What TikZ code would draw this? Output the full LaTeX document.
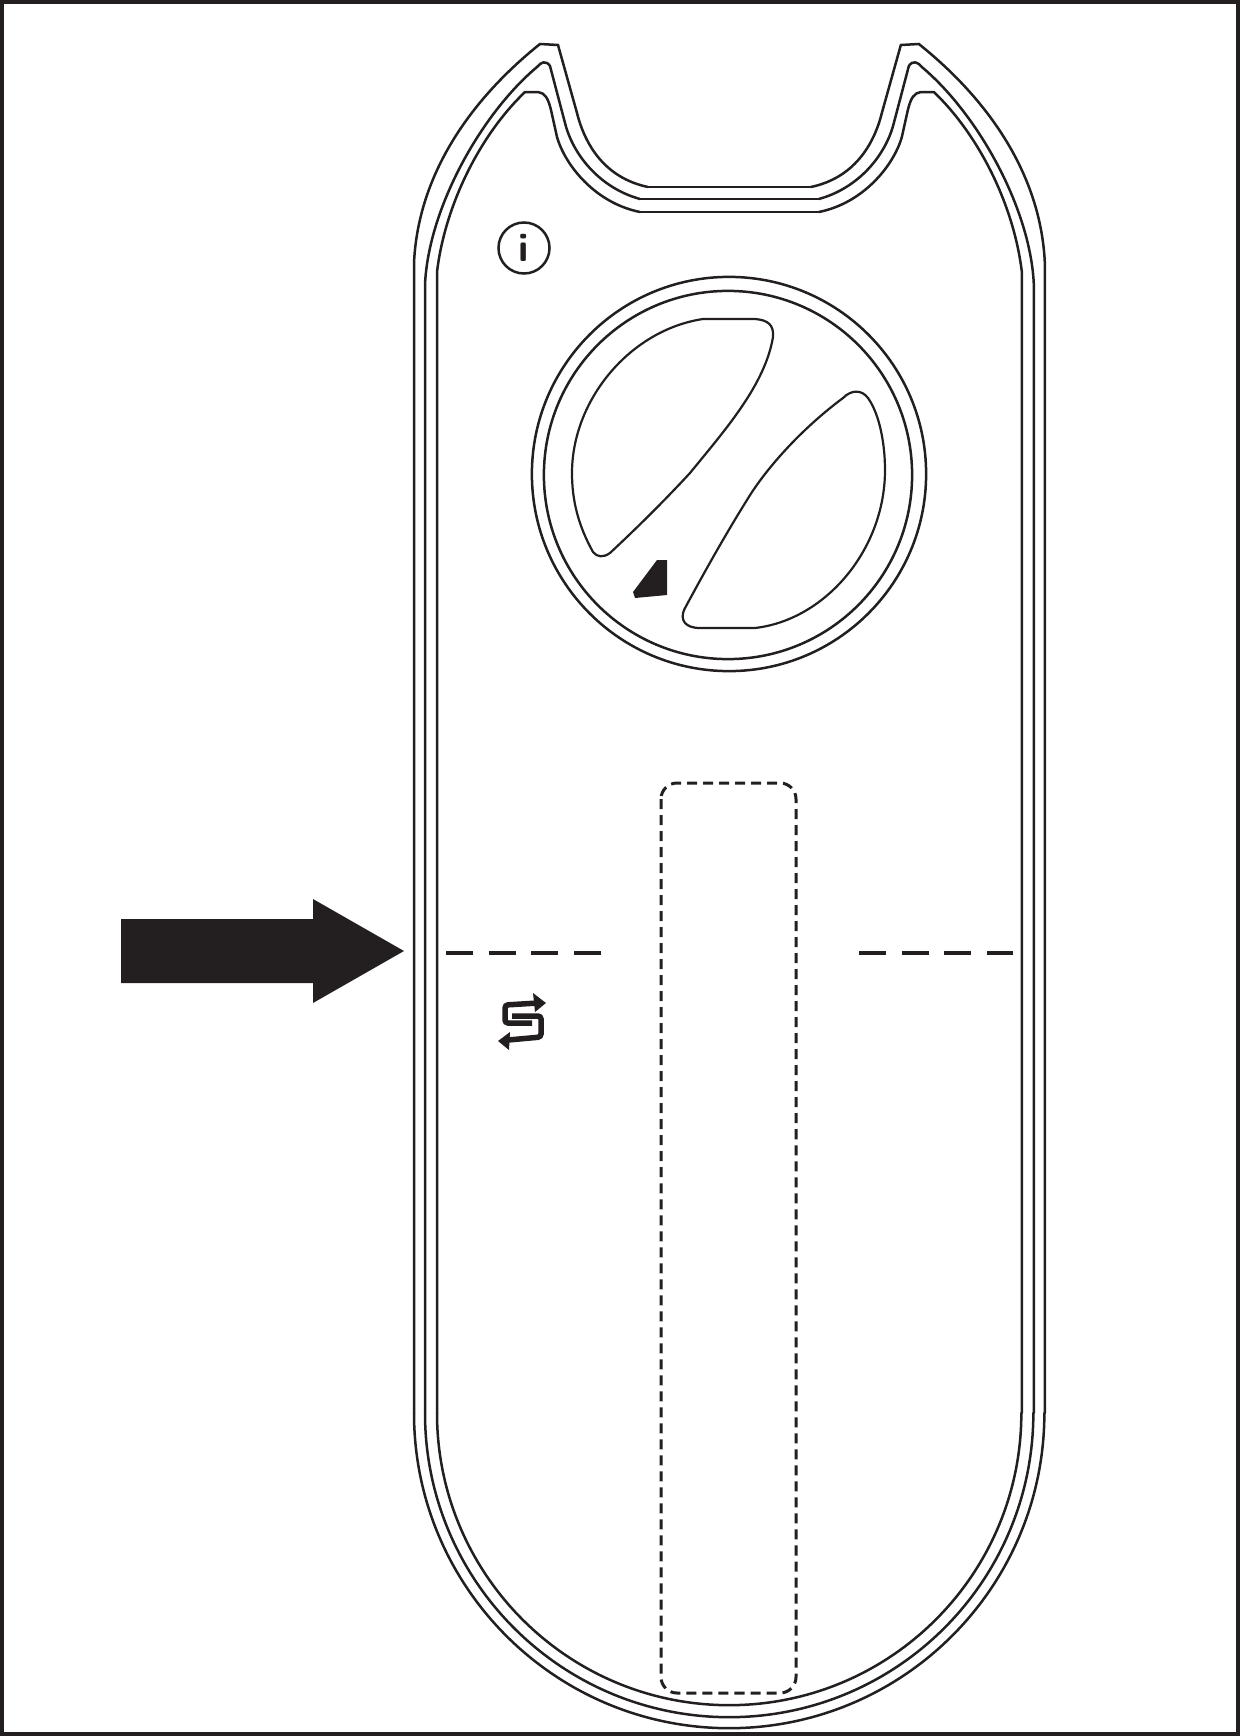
\documentclass[tikz,border=0pt]{standalone}
\usepackage{tikz}
\definecolor{inkdark}{HTML}{231F20}
\tikzset{
	wall/.style = {inkdark, line width = 0.025cm, line cap = round},
	lobe/.style = {inkdark, line width = 0.022cm},
	foldline/.style = {inkdark, line width = 0.035cm, dash pattern = on 0.27cm off 0.157cm},
	strapline/.style = {inkdark, line width = 0.03cm, dash pattern = on 0.1cm off 0.06cm, rounded corners = 0.16cm},
	iconline/.style = {inkdark, line width = 0.055cm, rounded corners = 0.03cm}
}
\newcommand{\halfshell}{
	\draw[wall] (414,1413) -- (414,263) .. controls (418,175) and (470,100) .. (540,44) -- (558,45) -- (577,113) .. controls (585,145) and (605,178) .. (648,187);
	\draw[wall] (425,1413) -- (425,285) .. controls (428,210) and (480,115) .. (537,67) .. controls (541,62) and (546,60) .. (550,66) -- (565,123) .. controls (573,155) and (600,188) .. (640,199);
	\draw[wall] (437,1413) -- (437,272) .. controls (445,205) and (480,135) .. (525,92) -- (538,92) .. controls (545,93) and (548,98) .. (551,110) -- (557,137) .. controls (565,165) and (595,203) .. (640,212);
}
\begin{document}
\begin{tikzpicture}[x = 0.01cm, y = -0.01cm]
	 \useasboundingbox (0,0) rectangle (1240,1736);
	 \draw[inkdark, line width = 0.08cm] (0,0) rectangle (1240,1736);

	 \halfshell
	 \begin{scope}[xshift = 14.58cm, xscale = -1]
	 \halfshell
	 \end{scope}
	 \foreach \xleft/\rad in {414/3.15, 425/3.04, 437/2.92}
	 \draw[wall] (\xleft,1413) arc (180:360:\rad cm);
	 \foreach \xleft/\ylevel in {648/187, 640/199, 640/212}
	 \draw[wall] (\xleft,\ylevel) -- ({1458-\xleft},\ylevel);

	 \draw[wall] (729,474) circle (1.97cm);
	 \draw[wall] (728,475) circle (1.84cm);
	 \draw[lobe] (703,319) -- (755,319) .. controls (768,320) and (774,325) .. (773,337) .. controls (765,385) and (725,430) .. (690,473) .. controls (665,500) and (640,525) .. (610,553) .. controls (603,558) and (597,557) .. (593,552) .. controls (578,525) and (572,500) .. (572,473) .. controls (572,400) and (630,330) .. (703,319) -- cycle;
	 \draw[lobe] (700,628) -- (755,628) .. controls (825,620) and (885,550) .. (885,470) .. controls (885,445) and (880,415) .. (868,398) .. controls (862,390) and (852,389) .. (843,398) .. controls (800,430) and (765,470) .. (747,500) .. controls (725,535) and (700,580) .. (684,610) .. controls (680,620) and (685,628) .. (700,628) -- cycle;
	 \fill[inkdark] (657,560) -- (667,560) -- (667,595) -- (635,598) -- (633,592) -- cycle;

	 \node (infoicon) [draw = inkdark, circle, line width = 0.025cm, minimum size = 0.51cm, inner sep = 0pt, text = inkdark, font = \sffamily\bfseries\fontsize{11.5}{11.5}\selectfont] at (524,248) {i};

	 \draw[iconline] (538,1003) -- (505,1005) -- (505,1023) -- (532,1023);
	 \draw[iconline] (508,1040) -- (541,1037) -- (541,1016) -- (512,1016);
	 \fill[inkdark] (533,993) -- (546,1003) -- (535,1012) -- cycle;
	 \fill[inkdark] (510,1032) -- (498,1041) -- (509,1050) -- cycle;

	 \fill[inkdark] (121,919) -- (313,919) -- (313,899) -- (404,951) -- (313,1003) -- (313,983) -- (121,983) -- cycle;

	 \draw[foldline] (446,953) -- (601,953);
	 \draw[foldline] (859,953) -- (1013,953);
	 \draw[strapline] (661,783) rectangle (796,1693);
\end{tikzpicture}
\end{document}
